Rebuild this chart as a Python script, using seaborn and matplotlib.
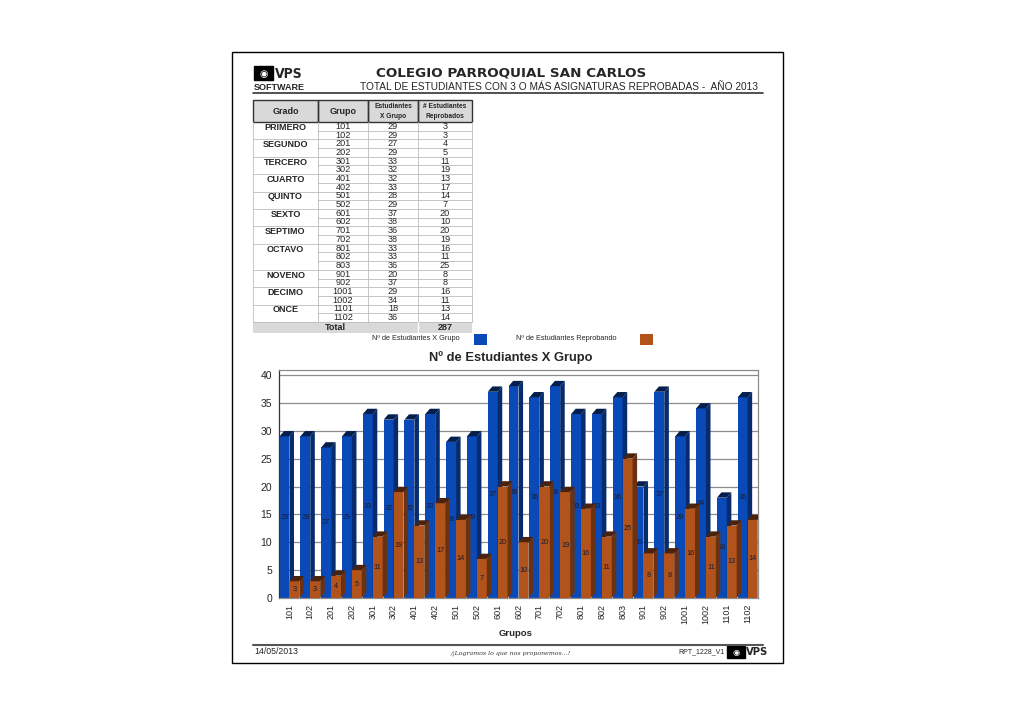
import pandas as pd
import matplotlib.pyplot as plt
import matplotlib.colors as mcolors
from matplotlib.patches import Rectangle, Polygon
import seaborn as sns

# datos del reporte
grados = ['PRIMERO', 'SEGUNDO', 'TERCERO', 'CUARTO', 'QUINTO', 'SEXTO',
          'SEPTIMO', 'OCTAVO', 'NOVENO', 'DECIMO', 'ONCE']
grupos_por_grado = [2, 2, 2, 2, 2, 2, 2, 3, 2, 2, 2]
grupos = ['101', '102', '201', '202', '301', '302', '401', '402', '501', '502',
          '601', '602', '701', '702', '801', '802', '803', '901', '902',
          '1001', '1002', '1101', '1102']
estudiantes = [29, 29, 27, 29, 33, 32, 32, 33, 28, 29, 37, 38, 36, 38, 33, 33,
               36, 20, 37, 29, 34, 18, 36]
reprobados = [3, 3, 4, 5, 11, 19, 13, 17, 14, 7, 20, 10, 20, 19, 16, 11, 25,
              8, 8, 16, 11, 13, 14]
serie_1 = 'Nº de Estudiantes X Grupo'
serie_2 = 'Nº de Estudiantes Reprobando'

azul = '#0a4ab8'
naranja = '#b2531c'

sns.set_style('white')
plt.rcParams['font.family'] = ['Liberation Sans', 'DejaVu Sans']

W, H = 1031, 711
fig = plt.figure(figsize=(W / 100, H / 100), dpi=100)
fig.patch.set_facecolor('white')

# capa de pagina en coordenadas de pixel
pg = fig.add_axes([0, 0, 1, 1], zorder=0)
pg.set_xlim(0, W)
pg.set_ylim(H, 0)
pg.axis('off')

pg.add_patch(Rectangle((232, 52), 551, 611, fill=False, ec='black', lw=1.0))

# logo
pg.add_patch(Rectangle((254, 66), 19, 14, fc='black', ec='black'))
pg.text(263.5, 73.5, '◉', color='white', fontsize=7, ha='center', va='center',
        family='DejaVu Sans')
pg.text(275, 73.5, 'VPS', fontsize=10, fontweight='bold', ha='left', va='center',
        family='DejaVu Sans', stretch='condensed')
pg.text(254, 87, 'SOFTWARE', fontsize=6.5, fontweight='bold', ha='left', va='center')
pg.plot([253, 763], [93, 93], color='#333333', lw=1.2)

pg.text(511, 73, 'COLEGIO PARROQUIAL SAN CARLOS', fontsize=9.7, fontweight='bold',
        ha='center', va='center', family='DejaVu Sans')
pg.text(360, 87, 'TOTAL DE ESTUDIANTES CON 3 O MÁS ASIGNATURAS REPROBADAS -  AÑO 2013',
        fontsize=7.3, ha='left', va='center')

# tabla
cols = [253, 318, 368, 418, 472]
y_head0, y_head1 = 100, 122
y_tot = 322
alto = (y_tot - y_head1) / len(grupos)
gris = '#bdbdbd'

pg.add_patch(Rectangle((cols[0], y_head0), cols[-1] - cols[0], y_head1 - y_head0,
                       fc='#d9d9d9', ec='none'))
for i in range(4):
    pg.add_patch(Rectangle((cols[i], y_head0), cols[i + 1] - cols[i], y_head1 - y_head0,
                           fill=False, ec='#333333', lw=1.0))
cy = (y_head0 + y_head1) / 2
pg.text((cols[0] + cols[1]) / 2, cy, 'Grado', fontsize=6.5, fontweight='bold', ha='center', va='center')
pg.text((cols[1] + cols[2]) / 2, cy, 'Grupo', fontsize=6.5, fontweight='bold', ha='center', va='center')
pg.text((cols[2] + cols[3]) / 2, cy, 'Estudiantes\nX Grupo', fontsize=4.8, fontweight='bold',
        ha='center', va='center', linespacing=1.6)
pg.text((cols[3] + cols[4]) / 2, cy, '# Estudiantes\nReprobados', fontsize=4.8, fontweight='bold',
        ha='center', va='center', linespacing=1.6)

for k, (g, e, r) in enumerate(zip(grupos, estudiantes, reprobados)):
    yc = y_head1 + (k + 0.5) * alto
    pg.text((cols[1] + cols[2]) / 2, yc, g, fontsize=6.6, ha='center', va='center')
    pg.text((cols[2] + cols[3]) / 2, yc, str(e), fontsize=6.6, ha='center', va='center')
    pg.text((cols[3] + cols[4]) / 2, yc, str(r), fontsize=6.6, ha='center', va='center')
    yb = y_head1 + (k + 1) * alto
    pg.plot([cols[1], cols[4]], [yb, yb], color=gris, lw=0.6)

fila = 0
for grado, n in zip(grados, grupos_por_grado):
    yc = y_head1 + (fila + 0.5) * alto + 1
    pg.text((cols[0] + cols[1]) / 2, yc, grado, fontsize=6.5, fontweight='bold',
            ha='center', va='center')
    fila += n
    yb = y_head1 + fila * alto
    pg.plot([cols[0], cols[1]], [yb, yb], color=gris, lw=0.6)

for x in cols:
    pg.plot([x, x], [y_head1, y_tot], color=gris, lw=0.6)

pg.add_patch(Rectangle((cols[0], y_tot), cols[-1] - cols[0], 11, fc='#d9d9d9', ec='none'))
pg.plot([cols[3], cols[3]], [y_tot, y_tot + 11], color='white', lw=1)
pg.text((cols[0] + cols[3]) / 2, y_tot + 5.5, 'Total', fontsize=6.5, fontweight='bold',
        ha='center', va='center')
pg.text((cols[3] + cols[4]) / 2, y_tot + 5.5, str(sum(reprobados)), fontsize=6.5,
        fontweight='bold', ha='center', va='center')

# leyenda
pg.text(372, 339, serie_1, fontsize=5.3, ha='left', va='center')
pg.add_patch(Rectangle((474, 334), 13, 11, fc=azul, ec='none'))
pg.text(516, 338, serie_2, fontsize=5.3, ha='left', va='center')
pg.add_patch(Rectangle((640, 334), 13, 11, fc=naranja, ec='none'))

pg.text(511, 358, 'Nº de Estudiantes X Grupo', fontsize=9.3, fontweight='bold',
        ha='center', va='center')
pg.text(516, 634, 'Grupos', fontsize=6.8, fontweight='bold', ha='center', va='center')

# pie de pagina
pg.plot([253, 763], [645, 645], color='#555555', lw=1.5)
pg.text(254, 652, '14/05/2013', fontsize=6.3, ha='left', va='center')
pg.text(511, 653, '/¡Logramos lo que nos proponemos...!', fontsize=4.5, style='italic',
        ha='center', va='center', family='DejaVu Serif', color='#333333')
pg.text(678, 652, 'RPT_1228_V1', fontsize=5, ha='left', va='center')
pg.add_patch(Rectangle((727, 646), 18, 12, fc='black', ec='black'))
pg.text(736, 652, '◉', color='white', fontsize=6, ha='center', va='center', family='DejaVu Sans')
pg.text(746, 652, 'VPS', fontsize=8, fontweight='bold', ha='left', va='center',
        family='DejaVu Sans', stretch='condensed')

# grafico de barras
df = pd.DataFrame({'grupo': grupos * 2,
                   'valor': estudiantes + reprobados,
                   'serie': [serie_1] * len(grupos) + [serie_2] * len(grupos)})

ax = fig.add_axes([279 / W, 1 - 598 / H, 479 / W, 228 / H], zorder=1)
sns.barplot(data=df, x='grupo', y='valor', hue='serie', palette=[azul, naranja],
            width=0.95, saturation=1, legend=False, ax=ax, order=grupos,
            edgecolor='none')

# efecto 3D: tapa y lateral calculados desde cada barra
dx, dy = 0.22, 0.95
for serie_idx, cont in enumerate(ax.containers):
    z = 2 + serie_idx
    for p in cont:
        base = mcolors.to_rgb(p.get_facecolor())
        oscuro = tuple(c * 0.42 for c in base)
        lado = tuple(c * 0.6 for c in base)
        x0, w, h = p.get_x(), p.get_width(), p.get_height()
        p.set_zorder(z)
        ax.add_patch(Polygon([(x0 + w, 0), (x0 + w + dx, dy), (x0 + w + dx, h + dy), (x0 + w, h)],
                             closed=True, fc=lado, ec='none', zorder=z))
        ax.add_patch(Polygon([(x0, h), (x0 + w, h), (x0 + w + dx, h + dy), (x0 + dx, h + dy)],
                             closed=True, fc=oscuro, ec='none', zorder=z))
    ax.bar_label(cont, label_type='center', fontsize=5.3, color='#1b1b2e', zorder=z + 1)

ax.set_xlim(-0.5, len(grupos) - 0.5)
ax.set_ylim(0, 40.9)
ax.set_yticks(range(0, 41, 5))
ax.yaxis.grid(True, color='#8c8c8c', lw=0.9)
ax.set_axisbelow(True)
ax.set_xlabel('')
ax.set_ylabel('')
ax.tick_params(axis='x', labelsize=6.5, rotation=90, length=0, pad=4)
ax.tick_params(axis='y', labelsize=7.5, length=0, pad=5)
for s in ax.spines.values():
    s.set_color('#8c8c8c')
    s.set_linewidth(0.9)
ax.spines['left'].set_color('#333333')

fig.savefig('out.png', dpi=100)
